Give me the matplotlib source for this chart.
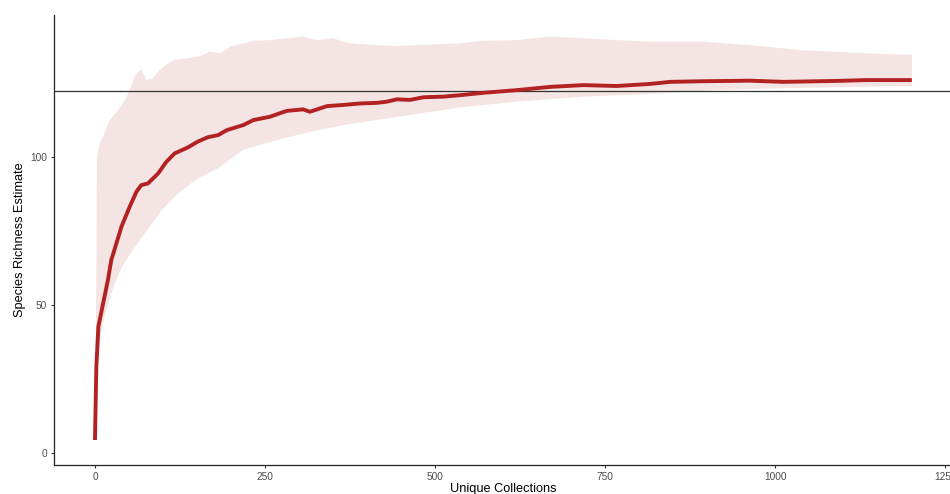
import numpy as np
import matplotlib
matplotlib.use("Agg")
import matplotlib.pyplot as plt

plt.rcParams["font.family"] = ["Liberation Sans", "DejaVu Sans"]

# Rarefaction curve: mean species richness estimate by number of collections
collections = [0, 2, 5, 12, 19, 24, 39, 51, 61, 68, 78, 93, 105, 117, 137, 151,
               166, 181, 194, 218, 233, 257, 282, 306, 316, 341, 365, 390, 414,
               429, 444, 463, 483, 512, 537, 571, 620, 669, 718, 767, 816, 846,
               890, 963, 1012, 1086, 1135, 1201]
richness = [4.4, 29.0, 42.7, 50.6, 58.4, 65.2, 76.5, 83.2, 88.3, 90.5, 91.1,
            94.5, 98.4, 101.2, 103.3, 105.2, 106.7, 107.4, 109.1, 110.8, 112.5,
            113.6, 115.6, 116.1, 115.3, 117.2, 117.6, 118.1, 118.3, 118.7, 119.5,
            119.3, 120.2, 120.4, 120.9, 121.7, 122.6, 123.7, 124.3, 124.0, 124.7,
            125.4, 125.6, 125.8, 125.4, 125.7, 126.0, 126.0]

# Upper bound of the confidence band
upper_x = [0, 2, 3, 7, 12, 22, 34, 44, 51, 56, 61, 68, 76, 85, 95, 107, 117,
           154, 169, 184, 199, 233, 257, 282, 306, 326, 350, 375, 414, 444, 473,
           512, 537, 571, 620, 669, 718, 767, 816, 865, 894, 939, 988, 1037,
           1086, 1135, 1201]
upper_y = [4.4, 60.0, 100.0, 104.6, 106.9, 112.5, 115.9, 119.3, 122.6, 126.0,
           128.3, 129.4, 126.0, 126.6, 129.4, 131.6, 132.8, 134.0, 135.6, 135.0,
           137.3, 139.3, 139.5, 140.1, 140.7, 139.5, 140.1, 138.4, 137.8, 137.5,
           137.8, 138.2, 138.4, 139.3, 139.5, 140.7, 140.1, 139.5, 139.0, 139.0,
           139.0, 138.2, 137.3, 136.1, 135.6, 135.0, 134.5]

# Lower bound of the confidence band
lower_x = [0, 3, 6, 12, 20, 29, 40, 51, 73, 98, 122, 151, 181, 218, 267, 316,
           365, 414, 463, 512, 537, 620, 718, 816, 904, 1000, 1100, 1201]
lower_y = [4.4, 25.0, 36.0, 44.0, 51.0, 57.4, 63.0, 67.0, 74.2, 82.0, 87.7,
           92.8, 96.2, 102.4, 105.7, 108.5, 110.8, 112.5, 114.2, 115.9, 116.8,
           118.7, 120.4, 121.3, 122.5, 123.2, 123.6, 124.0]

# Reference richness shown as a horizontal line
reference_richness = 122.3

x_ticks = [0, 250, 500, 750, 1000, 1250]
y_ticks = [0, 50, 100]

fig = plt.figure(figsize=(9.5, 4.94), dpi=100)
ax = fig.add_axes([0.0568, 0.0587, 0.9453, 0.911])

band_x = np.concatenate([upper_x, lower_x[::-1]])
band_y = np.concatenate([upper_y, lower_y[::-1]])
ax.fill(band_x, band_y, color="#b22222", alpha=0.12, linewidth=0, zorder=1)

ax.plot(collections, richness, color="#b22222", linewidth=2.8,
        solid_joinstyle="round", solid_capstyle="butt", zorder=3)

ax.axhline(reference_richness, color="#333333", linewidth=0.9, zorder=2)

ax.set_xlim(-60.3, 1260)
ax.set_ylim(-4.05, 148)
ax.set_xticks(x_ticks)
ax.set_yticks(y_ticks)

for side in ("top", "right"):
    ax.spines[side].set_visible(False)
for side in ("left", "bottom"):
    ax.spines[side].set_color("#222222")
    ax.spines[side].set_linewidth(0.9)

ax.tick_params(axis="both", length=2.5, width=0.8, color="#333333",
               labelcolor="#4d4d4d", labelsize=7.3, pad=2.5)

ax.set_xlabel("Unique Collections", fontsize=9.2, color="black")
ax.set_ylabel("Species Richness Estimate", fontsize=9.2, color="black")
ax.xaxis.set_label_coords(0.5, -0.041)
ax.xaxis.label.set_va("top")
ax.yaxis.set_label_coords(-0.0375, 0.5)
ax.yaxis.label.set_va("center")

fig.savefig("out.png", dpi=100)
